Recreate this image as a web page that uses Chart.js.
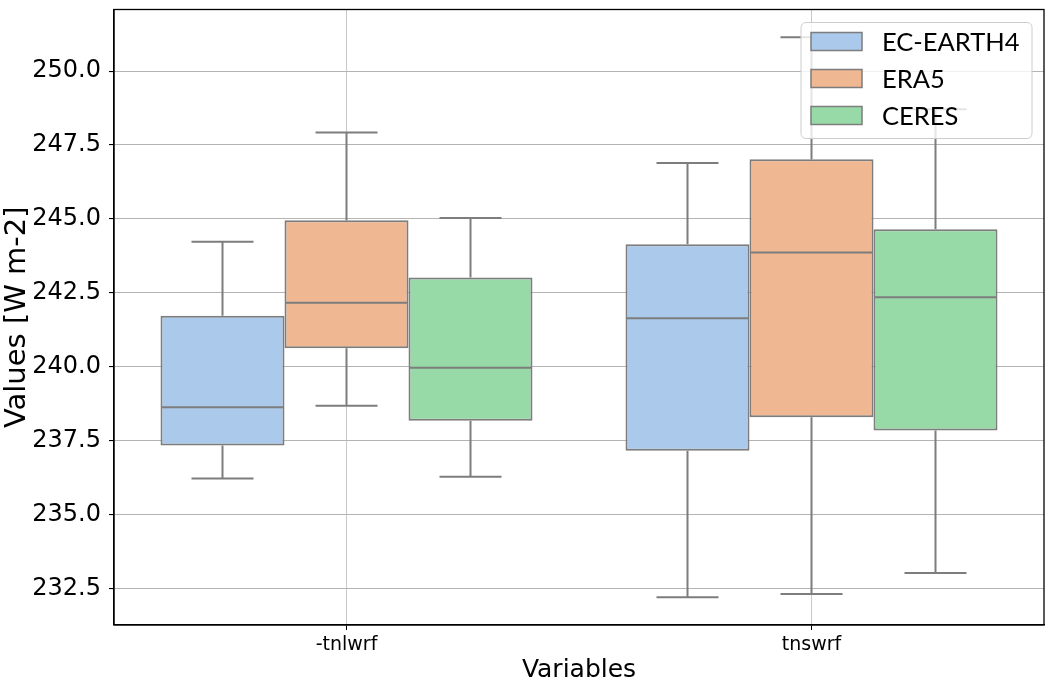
<!DOCTYPE html>
<html>
<head>
<meta charset="utf-8">
<script src="https://cdn.jsdelivr.net/npm/chart.js@4.4.1/dist/chart.umd.min.js"></script>
<style>
  html, body { margin: 0; padding: 0; background: #fff; }
  #wrap { width: 1054px; height: 694px; }
</style>
</head>
<body>
<div id="wrap"><canvas id="myChart" width="1054" height="694"></canvas></div>
<script>
// categories on the x axis
var categories = ['-tnlwrf', 'tnswrf'];
var seriesNames = ['EC-EARTH4', 'ERA5', 'CERES'];
// box stats per category: [lower whisker, q1, median, q3, upper whisker]
var ecEarth4 = [[236.23, 237.35, 238.64, 241.73, 244.23], [232.22, 237.17, 241.65, 244.15, 246.89]];
var era5 = [[238.69, 240.63, 242.17, 244.96, 247.92], [232.33, 238.30, 243.87, 247.02, 251.14]];
var ceres = [[236.29, 238.18, 239.97, 243.02, 245.03], [233.04, 237.85, 242.36, 244.65, 248.71]];
var yTicks = [232.5, 235.0, 237.5, 240.0, 242.5, 245.0, 247.5, 250.0];

var fills = ['#abc9ea', '#efb792', '#98daa7'];
var edge = '#7d7d7d';

var allStats = [ecEarth4, era5, ceres];
var datasets = allStats.map(function (st, i) {
  return {
    label: seriesNames[i],
    data: st.map(function (s) { return [s[1], s[3]]; }),
    stats: st,
    backgroundColor: fills[i],
    borderColor: edge,
    borderWidth: 2,
    borderSkipped: false,
    barPercentage: 1.0,
    categoryPercentage: 0.8
  };
});

// medians, whiskers and caps
var boxParts = {
  id: 'boxParts',
  afterDatasetsDraw: function (chart) {
    var ctx = chart.ctx, y = chart.scales.y;
    chart.data.datasets.forEach(function (ds, i) {
      chart.getDatasetMeta(i).data.forEach(function (bar, j) {
        var s = ds.stats[j];
        var cx = bar.x, half = bar.width / 2, cap = bar.width / 4;
        ctx.save();
        ctx.strokeStyle = edge;
        ctx.lineWidth = 2;
        ctx.beginPath();
        ctx.moveTo(cx - half + 1, y.getPixelForValue(s[2]));
        ctx.lineTo(cx + half - 1, y.getPixelForValue(s[2]));
        ctx.moveTo(cx, y.getPixelForValue(s[3]));
        ctx.lineTo(cx, y.getPixelForValue(s[4]));
        ctx.moveTo(cx - cap, y.getPixelForValue(s[4]));
        ctx.lineTo(cx + cap, y.getPixelForValue(s[4]));
        ctx.moveTo(cx, y.getPixelForValue(s[1]));
        ctx.lineTo(cx, y.getPixelForValue(s[0]));
        ctx.moveTo(cx - cap, y.getPixelForValue(s[0]));
        ctx.lineTo(cx + cap, y.getPixelForValue(s[0]));
        ctx.stroke();
        ctx.restore();
      });
    });
    // frame
    var a = chart.chartArea;
    ctx.save();
    ctx.strokeStyle = '#000';
    ctx.lineWidth = 1.3;
    ctx.strokeRect(a.left, a.top, a.right - a.left, a.bottom - a.top);
    ctx.restore();
  },
  afterDraw: function (chart) {
    var ctx = chart.ctx, a = chart.chartArea;
    var w = 231, h = 116;
    var x0 = a.right - 12 - w, y0 = a.top + 13;
    ctx.save();
    ctx.beginPath();
    ctx.roundRect(x0, y0, w, h, 5);
    ctx.fillStyle = 'rgba(255,255,255,0.8)';
    ctx.fill();
    ctx.strokeStyle = '#cccccc';
    ctx.lineWidth = 1;
    ctx.stroke();
    ctx.font = '25.5px Lato';
    ctx.textBaseline = 'middle';
    ctx.textAlign = 'left';
    seriesNames.forEach(function (name, i) {
      var cy = y0 + 19 + i * 37;
      ctx.fillStyle = fills[i];
      ctx.fillRect(x0 + 10, cy - 9, 51, 18);
      ctx.strokeStyle = edge;
      ctx.lineWidth = 1.5;
      ctx.strokeRect(x0 + 10, cy - 9, 51, 18);
      ctx.fillStyle = '#000';
      ctx.fillText(name, x0 + 81, cy + 1);
    });
    ctx.restore();
  }
};

Chart.defaults.font.family = 'DejaVu Sans';
Chart.defaults.color = '#000';

var ctx = document.getElementById('myChart');
var myChart = new Chart(ctx, {
  type: 'bar',
  data: { labels: categories, datasets: datasets },
  plugins: [boxParts],
  options: {
    responsive: false,
    animation: false,
    layout: { padding: { top: 9.5, right: 10, left: 0, bottom: 0 } },
    plugins: { legend: { display: false }, tooltip: { enabled: false } },
    scales: {
      x: {
        stacked: false,
        grid: { display: true, offset: false, color: '#c8c8c8', lineWidth: 1, tickLength: 5, tickColor: '#000' },
        border: { display: true, color: '#000', width: 1.3 },
        ticks: { font: { size: 19 }, padding: 4 },
        title: { display: true, text: 'Variables', font: { size: 25 }, padding: { top: 0, bottom: 9 } },
        afterFit: function (s) { s.height = 69; s.paddingLeft = 0; s.paddingRight = 0; }
      },
      y: {
        min: 231.28,
        max: 252.08,
        grid: { color: '#b4b4b4', lineWidth: 1.1, tickLength: 5, tickColor: '#000' },
        border: { display: true, color: '#000', width: 1.3 },
        ticks: {
          font: { size: 24 },
          padding: 8,
          callback: function (v) { return Number(v).toFixed(1); }
        },
        afterBuildTicks: function (s) {
          s.ticks = yTicks.map(function (v) { return { value: v }; });
        },
        title: { display: true, text: 'Values [W m-2]', font: { size: 29 }, padding: { top: 0, bottom: 0 } },
        afterFit: function (s) { s.width = 114; s.paddingTop = 0; s.paddingBottom = 0; }
      }
    }
  }
});
</script>
</body>
</html>
